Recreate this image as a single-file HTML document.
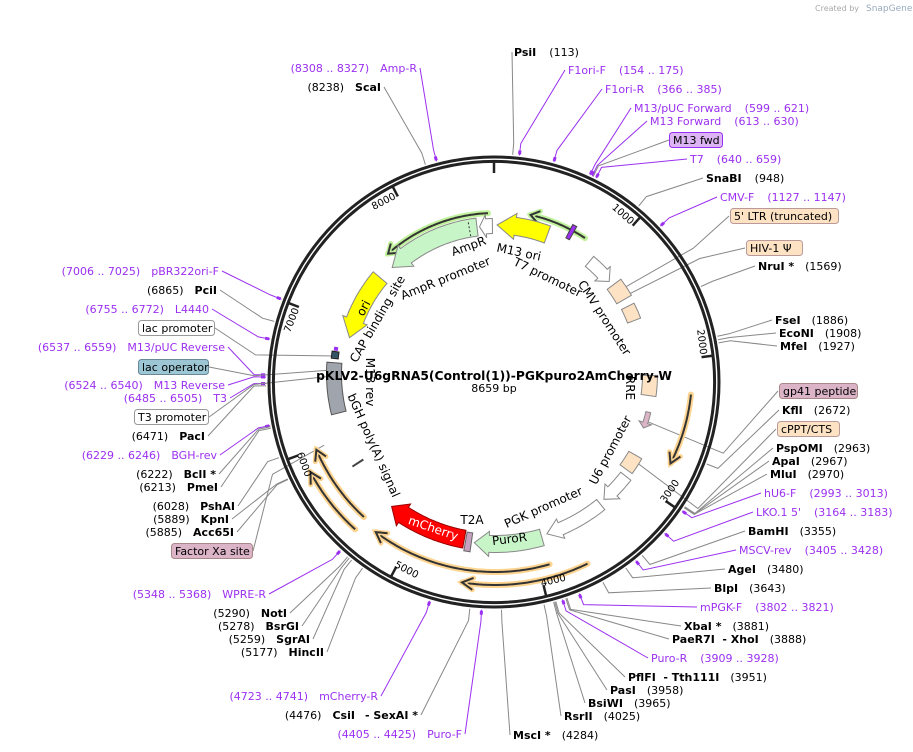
<!DOCTYPE html>
<html><head><meta charset="utf-8">
<style>
html,body{margin:0;padding:0;background:#fff;}
svg{display:block;font-family:"DejaVu Sans","Liberation Sans",sans-serif;font-size:11px;}
.b{font-weight:bold;}
.p{fill:#9b30f0;}
.k{fill:#000;}
</style></head><body>
<svg id="s" width="913" height="752" viewBox="0 0 913 752" xmlns="http://www.w3.org/2000/svg">
<g id="lines"></g>
<g id="ring"></g>
<g id="feat"></g>
<text x="815" y="11" font-size="8" fill="#aaa">Created by</text><text x="866" y="11" font-size="9" fill="#9ab">SnapGene</text>

<g class="k">
<text x="514" y="56"><tspan class="b">PsiI</tspan><tspan dx="13">(113)</tspan></text>
<text x="706" y="182"><tspan class="b">SnaBI</tspan><tspan dx="13">(948)</tspan></text>
<text x="758" y="270"><tspan class="b">NruI *</tspan><tspan dx="11">(1569)</tspan></text>
<text x="775" y="324"><tspan class="b">FseI</tspan><tspan dx="11">(1886)</tspan></text>
<text x="779" y="337"><tspan class="b">EcoNI</tspan><tspan dx="11">(1908)</tspan></text>
<text x="780" y="350"><tspan class="b">MfeI</tspan><tspan dx="11">(1927)</tspan></text>
<text x="782" y="414"><tspan class="b">KflI</tspan><tspan dx="11">(2672)</tspan></text>
<text x="776" y="452"><tspan class="b">PspOMI</tspan><tspan dx="11">(2963)</tspan></text>
<text x="772" y="465"><tspan class="b">ApaI</tspan><tspan dx="11">(2967)</tspan></text>
<text x="770" y="478"><tspan class="b">MluI</tspan><tspan dx="11">(2970)</tspan></text>
<text x="748" y="535"><tspan class="b">BamHI</tspan><tspan dx="11">(3355)</tspan></text>
<text x="728" y="573"><tspan class="b">AgeI</tspan><tspan dx="11">(3480)</tspan></text>
<text x="714" y="592"><tspan class="b">BlpI</tspan><tspan dx="11">(3643)</tspan></text>
<text x="684" y="630"><tspan class="b">XbaI *</tspan><tspan dx="11">(3881)</tspan></text>
<text x="672" y="643"><tspan class="b">PaeR7I</tspan> <tspan dx="4" class="b">- XhoI</tspan><tspan dx="11">(3888)</tspan></text>
<text x="628" y="681"><tspan class="b">PflFI</tspan> <tspan dx="4" class="b">- Tth111I</tspan><tspan dx="11">(3951)</tspan></text>
<text x="610" y="694"><tspan class="b">PasI</tspan><tspan dx="11">(3958)</tspan></text>
<text x="588" y="707"><tspan class="b">BsiWI</tspan><tspan dx="11">(3965)</tspan></text>
<text x="564" y="720"><tspan class="b">RsrII</tspan><tspan dx="11">(4025)</tspan></text>
<text x="513" y="739"><tspan class="b">MscI *</tspan><tspan dx="11">(4284)</tspan></text>
</g>
<g class="p">
<text x="568" y="74">F1ori-F<tspan dx="13">(154 .. 175)</tspan></text>
<text x="605" y="93">F1ori-R<tspan dx="13">(366 .. 385)</tspan></text>
<text x="634" y="112">M13/pUC Forward<tspan dx="13">(599 .. 621)</tspan></text>
<text x="650" y="125">M13 Forward<tspan dx="13">(613 .. 630)</tspan></text>
<text x="690" y="163">T7<tspan dx="13">(640 .. 659)</tspan></text>
<text x="720" y="201">CMV-F<tspan dx="13">(1127 .. 1147)</tspan></text>
<text x="764" y="497">hU6-F<tspan dx="13">(2993 .. 3013)</tspan></text>
<text x="756" y="516">LKO.1 5'<tspan dx="13">(3164 .. 3183)</tspan></text>
<text x="739" y="554">MSCV-rev<tspan dx="13">(3405 .. 3428)</tspan></text>
<text x="700" y="611">mPGK-F<tspan dx="13">(3802 .. 3821)</tspan></text>
<text x="651" y="662">Puro-R<tspan dx="13">(3909 .. 3928)</tspan></text>
</g>
<g class="k" text-anchor="end">
<text x="381" y="91">(8238)<tspan dx="11" class="b">ScaI</tspan></text>
<text x="217" y="294">(6865)<tspan dx="11" class="b">PciI</tspan></text>
<text x="205" y="440">(6471)<tspan dx="11" class="b">PacI</tspan></text>
<text x="216" y="478">(6222)<tspan dx="11" class="b">BclI *</tspan></text>
<text x="218" y="491">(6213)<tspan dx="11" class="b">PmeI</tspan></text>
<text x="235" y="510">(6028)<tspan dx="11" class="b">PshAI</tspan></text>
<text x="229" y="523">(5889)<tspan dx="11" class="b">KpnI</tspan></text>
<text x="234" y="536">(5885)<tspan dx="11" class="b">Acc65I</tspan></text>
<text x="287" y="617">(5290)<tspan dx="11" class="b">NotI</tspan></text>
<text x="299" y="630">(5278)<tspan dx="11" class="b">BsrGI</tspan></text>
<text x="310" y="643">(5259)<tspan dx="11" class="b">SgrAI</tspan></text>
<text x="324" y="656">(5177)<tspan dx="11" class="b">HincII</tspan></text>
<text x="418" y="719">(4476)<tspan dx="11" class="b">CsiI</tspan><tspan dx="10" class="b">- SexAI *</tspan></text>
</g>
<g class="p" text-anchor="end">
<text x="417" y="72">(8308 .. 8327)<tspan dx="11">Amp-R</tspan></text>
<text x="219" y="275">(7006 .. 7025)<tspan dx="11">pBR322ori-F</tspan></text>
<text x="209" y="313">(6755 .. 6772)<tspan dx="11">L4440</tspan></text>
<text x="225" y="351">(6537 .. 6559)<tspan dx="11">M13/pUC Reverse</tspan></text>
<text x="225" y="389">(6524 .. 6540)<tspan dx="11">M13 Reverse</tspan></text>
<text x="227" y="402">(6485 .. 6505)<tspan dx="11">T3</tspan></text>
<text x="217" y="459">(6229 .. 6246)<tspan dx="11">BGH-rev</tspan></text>
<text x="266" y="598">(5348 .. 5368)<tspan dx="11">WPRE-R</tspan></text>
<text x="378" y="700">(4723 .. 4741)<tspan dx="11">mCherry-R</tspan></text>
<text x="462" y="738">(4405 .. 4425)<tspan dx="11">Puro-F</tspan></text>
</g>
<g stroke-width="1">
<rect x="669.5" y="132.5" width="53" height="15" rx="3" fill="#dcb4f4" stroke="#9b30f0"/><text x="673" y="144">M13 fwd</text>
<rect x="730.5" y="208.5" width="108" height="15" rx="3" fill="#fde2c4" stroke="#b99"/><text x="734" y="220">5' LTR (truncated)</text>
<rect x="746.5" y="240.5" width="56" height="15" rx="3" fill="#fde2c4" stroke="#b99"/><text x="750" y="252">HIV-1 Ψ</text>
<rect x="779.5" y="383.5" width="78" height="15" rx="3" fill="#dcb4c8" stroke="#a88"/><text x="783" y="395">gp41 peptide</text>
<rect x="777.5" y="421.5" width="62" height="15" rx="3" fill="#fde2c4" stroke="#b99"/><text x="781" y="433">cPPT/CTS</text>
<rect x="138.5" y="320.5" width="76" height="15" rx="3" fill="#fff" stroke="#999"/><text x="142" y="332">lac promoter</text>
<rect x="138.5" y="359.5" width="70" height="15" rx="3" fill="#9cc6d4" stroke="#689"/><text x="142" y="371">lac operator</text>
<rect x="134.5" y="409.5" width="74" height="15" rx="3" fill="#fff" stroke="#999"/><text x="138" y="421">T3 promoter</text>
<rect x="171.5" y="543.5" width="81" height="15" rx="3" fill="#dcb4c8" stroke="#a88"/><text x="175" y="555">Factor Xa site</text>
</g>
<g font-size="12">
<text transform="translate(470,250) rotate(-20)" text-anchor="middle">AmpR</text>
<text transform="translate(447,282) rotate(-22)" text-anchor="middle">AmpR promoter</text>
<text transform="translate(518,256) rotate(12)" text-anchor="middle">M13 ori</text>
<text transform="translate(546,281) rotate(26)" text-anchor="middle">T7 promoter</text>
<text transform="translate(601,320) rotate(57)" text-anchor="middle">CMV promoter</text>
<text transform="translate(381,321) rotate(-60)" text-anchor="middle">CAP binding site</text>
<text transform="translate(626,388) rotate(90)" text-anchor="middle">RRE</text>
<text transform="translate(614,452) rotate(-62)" text-anchor="middle">U6 promoter</text>
<text transform="translate(545,511) rotate(-24)" text-anchor="middle">PGK promoter</text>
<text x="472" y="524" text-anchor="middle">T2A</text>
<text transform="translate(370,447) rotate(66)" text-anchor="middle">bGH poly(A) signal</text>
<text transform="translate(366,382) rotate(90)" text-anchor="middle">M13 rev</text>
<text transform="translate(432,532) rotate(19)" text-anchor="middle" fill="#fff">mCherry</text>
<text transform="translate(510,543) rotate(-7)" text-anchor="middle">PuroR</text>
<text transform="translate(367,310) rotate(-62)" text-anchor="middle">ori</text>
</g>
<g font-size="10">
<text id="t1000">1000</text>
<text id="t2000">2000</text>
<text id="t3000">3000</text>
<text id="t4000">4000</text>
<text id="t5000">5000</text>
<text id="t6000">6000</text>
<text id="t7000">7000</text>
<text id="t8000">8000</text>
</g>
<text x="494" y="380" text-anchor="middle" font-size="12.3" font-weight="bold">pKLV2-U6gRNA5(Control(1))-PGKpuro2AmCherry-W</text>
<text x="494" y="392" text-anchor="middle" font-size="11">8659 bp</text>
</svg>
<script>
var NS="http://www.w3.org/2000/svg",CX=495,CY=374,N=8659,RX=494,RY=382;
function P(r,d){var a=d*Math.PI/180;return [CX+r*Math.sin(a),CY-r*Math.cos(a)];}
function Q(r,d){var a=d*Math.PI/180;return [RX+r*Math.sin(a),RY-r*Math.cos(a)];}
function D(bp){return bp*360/N;}
function el(par,tag,at){var e=document.createElementNS(NS,tag);for(var k in at)e.setAttribute(k,at[k]);document.getElementById(par).appendChild(e);return e;}
function pts(a){return a.map(function(p){return p[0].toFixed(1)+","+p[1].toFixed(1)}).join(" ");}
var PU="#9b30f0",GR="#888";
var L=[
[113,512,52,GR],[154,565,70,PU],[366,602,89,PU],[599,631,108,PU],[613,647,121,PU],[620,669,140,GR],[640,687,159,PU],
[948,703,178,GR],[1127,717,197,PU],[1350,729,216,GR,150],[1420,745,248,GR,150],[1569,755,266,GR],
[1886,772,320,GR],[1908,776,333,GR],[1927,777,346,GR],[2580,778,391,GR,158],[2672,779,410,GR],[2930,776,429,GR,161],
[2963,773,448,GR],[2967,769,461,GR],[2970,767,474,GR],[2993,761,493,PU],[3164,753,512,PU],[3355,745,531,GR],
[3405,736,550,PU],[3480,725,569,GR],[3643,711,588,GR],[3802,697,607,PU],[3881,681,626,GR],[3888,669,639,GR],
[3909,648,658,PU],[3951,625,677,GR],[3958,607,690,GR],[3965,585,703,GR],[4025,561,716,GR],[4284,510,735,GR],
[8308,420,68,PU],[8238,384,87,GR],[7006,222,271,PU],[6865,220,290,GR],[6755,212,309,PU],[6650,215,328,GR,160],
[6537,228,347,PU],[6530,209,367,GR,160],[6524,228,385,PU],[6485,230,398,PU],[6480,209,417,GR,160],[6471,208,436,GR],
[6229,220,455,PU],[6222,219,474,GR],[6213,221,487,GR],[6028,238,506,GR],[5889,232,519,GR],[5885,237,532,GR],[5950,253,551,GR,185],
[5348,269,594,PU],[5290,290,613,GR],[5278,302,626,GR],[5259,313,639,GR],[5177,327,652,GR],
[4723,381,696,PU],[4476,421,715,GR],[4405,465,734,PU]];
L.forEach(function(l){var d=D(l[0]);var p0=l[4]?P(l[4],d):Q(228,d),p1=Q(240,d);
 el("lines","polyline",{points:pts([p0,p1,[l[1],l[2]]]),fill:"none",stroke:l[3],"stroke-width":1});
 if(l[3]==PU){var q=Q(229,d),q2=Q(233,d);el("lines","line",{x1:q[0],y1:q[1],x2:q2[0],y2:q2[1],stroke:PU,"stroke-width":3});}
});
el("ring","circle",{cx:RX,cy:RY,r:225,fill:"none",stroke:"#222","stroke-width":3});
el("ring","circle",{cx:RX,cy:RY,r:220.6,fill:"none",stroke:"#222","stroke-width":3});
for(var t=0;t<=8000;t+=1000){var d=D(t),a=Q(220,d),b=Q(209,d);el("ring","line",{x1:a[0],y1:a[1],x2:b[0],y2:b[1],stroke:"#222","stroke-width":2.5});
 if(t>0){var tx=document.getElementById("t"+t);
  if(d<90||d>270){var p=Q(208,d-0.6);tx.setAttribute("text-anchor","end");tx.setAttribute("transform","translate("+p[0].toFixed(1)+","+p[1].toFixed(1)+") rotate("+d.toFixed(1)+")");}
  else{var p=Q(210,d+0.6);tx.setAttribute("text-anchor","start");tx.setAttribute("transform","translate("+p[0].toFixed(1)+","+p[1].toFixed(1)+") rotate("+(d-180).toFixed(1)+")");}
 }}
function arrow(r,w,a1,a2,fill,stroke,head){
 var s=a2>a1?1:-1,hd=head===0?0:(head||Math.min(7,Math.abs(a2-a1)*0.45)),aH=a2-s*hd,o=[],i=[],n=30;
 for(var k=0;k<=n;k++){var a=a1+(aH-a1)*k/n;o.push(P(r+w/2,a));i.unshift(P(r-w/2,a));}
 var pp=o.slice();
 if(hd>0){pp.push(P(r+w/2+4,aH));pp.push(P(r,a2));pp.push(P(r-w/2-4,aH));}
 pp=pp.concat(i);
 el("feat","polygon",{points:pts(pp),fill:fill,stroke:stroke,"stroke-width":1});
}
function arcLine(r,a1,a2,halo){
 var p=[];for(var k=0;k<=60;k++)p.push(P(r,a1+(a2-a1)*k/60));
 el("feat","polyline",{points:pts(p),fill:"none",stroke:halo,"stroke-width":6,"stroke-linecap":"round"});
 el("feat","polyline",{points:pts(p),fill:"none",stroke:"#333","stroke-width":2});
 var s=a2>a1?1:-1,t=P(r,a2),u=P(r+6,a2-s*3),v=P(r-6,a2-s*3);
 el("feat","polyline",{points:pts([u,t,v]),fill:"none",stroke:halo,"stroke-width":5,"stroke-linecap":"round"});
 el("feat","polyline",{points:pts([u,t,v]),fill:"none",stroke:"#333","stroke-width":2});
}
var OR="#fcd490",GH="#bff29a";
arcLine(197,96,117,OR);arcLine(198,164,217,OR);arcLine(211,154,189,OR);arcLine(194,222.5,247,OR);arcLine(209,222,242,OR);
arcLine(161,-2.5,-41.6,GH);arcLine(163,33.5,12.6,GH);
arrow(149,18,20.6,0.8,"#ffff00","#888");
arrow(148,15,-1,-6,"#fff","#888",2.5);
arrow(148,18,-7,-44,"#c8f5c8","#888");
(function(){var a=P(140,-10),b=P(156,-10);el("feat","line",{x1:a[0],y1:a[1],x2:b[0],y2:b[1],stroke:"#333","stroke-dasharray":"2,2"});})();
arrow(150,18,-50,-76,"#ffff00","#888");
arrow(147,13,40,51,"#fff","#888",4);
arrow(149,17,53,60,"#fde2c4","#888",0);arrow(149,14,63,69,"#fde2c4","#888",0);
arrow(155,15,90.5,98,"#fde2c4","#888",0);
arrow(158,5,104,110,"#dcb4c8","#888",2);
arrow(162,15,120,126,"#fde2c4","#888",0);
arrow(166,13,128,139,"#fff","#888",4);
arrow(168,13,141,162,"#fff","#888",5);
arrow(170,17,164,187,"#c8f5c8","#888",5);
arrow(170,19,188,190,"#c8a0c0","#666",0);
arrow(168,18,190.5,218,"#ff0000","#900",5);
arrow(161,15,256,274,"#a0a4ac","#555",0);
arrow(161,7,275.5,278,"#335566","#222",0);arrow(161,3,278.5,279.5,"#9b30f0","#9b30f0",0);arrow(161,15,27.5,29,"#9b30f0","#444",0);
(function(){var a=P(157,237),b=P(170,237);el("feat","line",{x1:a[0],y1:a[1],x2:b[0],y2:b[1],stroke:"#444","stroke-width":2});})();
</script>
</body></html>
